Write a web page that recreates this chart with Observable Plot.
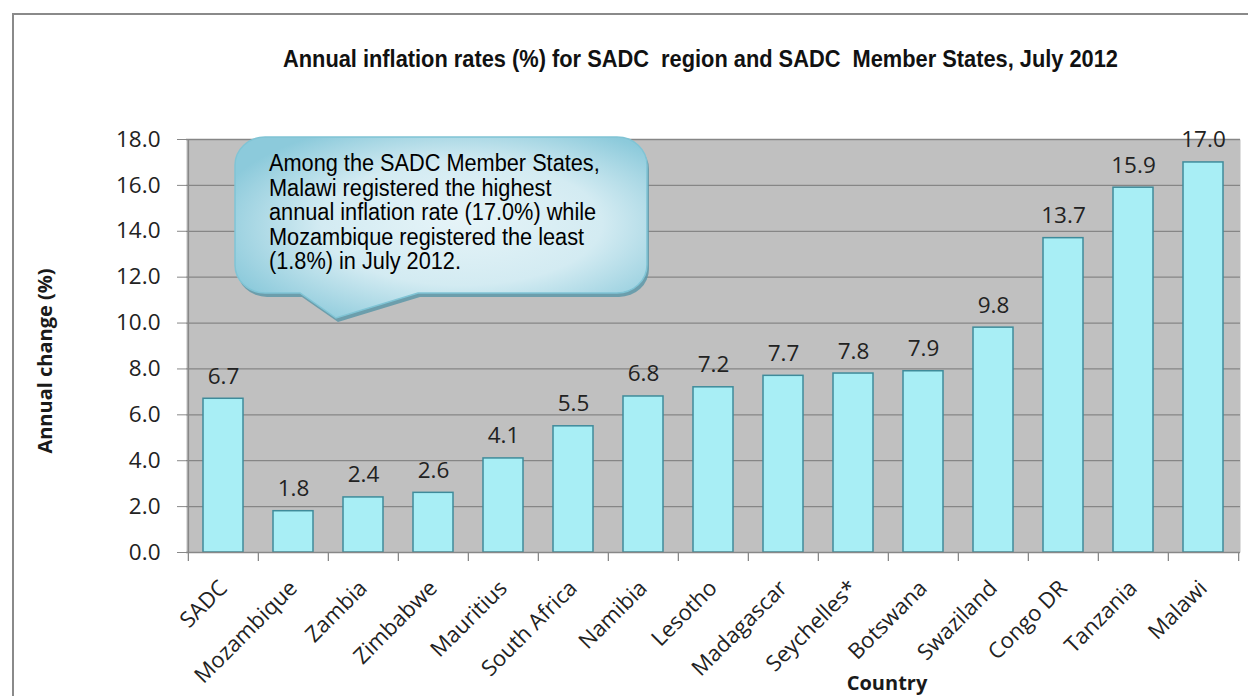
<!DOCTYPE html>
<html>
<head>
<meta charset="utf-8">
<script src="https://cdn.jsdelivr.net/npm/d3@7"></script>
<script src="https://cdn.jsdelivr.net/npm/@observablehq/plot@0.6"></script>
<style>
  html, body { margin: 0; padding: 0; background: #fff; }
  #wrap { position: relative; width: 1248px; height: 696px; overflow: hidden; }
  #wrap > svg { position: absolute; left: 0; top: 0; }
  #overlay { pointer-events: none; }
</style>
</head>
<body>
<div id="wrap"></div>
<script>
// ---- data ----
const categories = ["SADC","Mozambique","Zambia","Zimbabwe","Mauritius","South Africa","Namibia","Lesotho","Madagascar","Seychelles*","Botswana","Swaziland","Congo DR","Tanzania","Malawi"];
const values = [6.7, 1.8, 2.4, 2.6, 4.1, 5.5, 6.8, 7.2, 7.7, 7.8, 7.9, 9.8, 13.7, 15.9, 17.0];
const yTicks = [0, 2, 4, 6, 8, 10, 12, 14, 16, 18];
const titleText = "Annual inflation rates (%) for SADC  region and SADC  Member States, July 2012";
const yLabelText = "Annual change (%)";
const xLabelText = "Country";
const calloutLines = [
  "Among the SADC Member States,",
  "Malawi registered the highest",
  "annual inflation rate (17.0%) while",
  "Mozambique registered the least",
  "(1.8%) in July 2012."
];

// ---- layout ----
const W = 1248, H = 696, mL = 186, mR = 8, mT = 139, mB = 144;
const n = categories.length;
const step = (W - mL - mR) / n;
const data = categories.map((c, i) => ({country: c, value: values[i]}));

const chart = Plot.plot({
  width: W, height: H,
  marginLeft: mL, marginRight: mR, marginTop: mT, marginBottom: mB,
  style: {fontFamily: "'Open Sans', sans-serif", background: "transparent", color: "#222", overflow: "visible"},
  x: {domain: categories, paddingInner: 0.43, paddingOuter: 0.215, label: null},
  y: {domain: [0, 18], label: null},
  marks: [
    Plot.frame({fill: "#c0c0c0", stroke: null}),
    Plot.ruleY(yTicks.slice(1), {stroke: "#868686", strokeWidth: 1.3}),
    Plot.barY(data, {x: "country", y: "value", fill: "#a8eef5", stroke: "#3f8b9a", strokeWidth: 1.5}),
    Plot.text(data, {x: "country", y: "value", text: d => d.value.toFixed(1), dy: -15, lineAnchor: "bottom", fontSize: 22.5, fill: "#222"}),
    Plot.ruleY([0], {stroke: "#888", strokeWidth: 1.5}),
    Plot.ruleX([categories[0]], {x: d => d, dx: -step / 2, y1: 0, y2: 18, stroke: "#888", strokeWidth: 1.5}),
    Plot.ruleX(categories, {x: d => d, dx: -step / 2, y1: 0, y2: 0, insetBottom: -9, stroke: "#888", strokeWidth: 1.3}),
    Plot.ruleX([categories[n - 1]], {x: d => d, dx: step / 2, y1: 0, y2: 0, insetBottom: -9, stroke: "#888", strokeWidth: 1.3}),
    Plot.axisY({ticks: yTicks, tickFormat: d3.format(".1f"), tickSize: 9, tickPadding: 17, fontSize: 22.5, stroke: "#888", label: null}),
    Plot.axisX({tickRotate: -45, tickSize: 0, tickPadding: 32, dx: 0, fontSize: 22, label: null})
  ]
});
document.getElementById("wrap").appendChild(chart);

// ---- overlay: border, title, axis titles, callout ----
const ns = "http://www.w3.org/2000/svg";
const ov = d3.select("#wrap").append("svg").attr("id", "overlay")
  .attr("width", W).attr("height", H).attr("xmlns", ns);

ov.append("rect").attr("x", 13).attr("y", 14).attr("width", 1400).attr("height", 900)
  .attr("fill", "none").attr("stroke", "#8a8a8a").attr("stroke-width", 2);

ov.append("text").attr("x", 700.5).attr("y", 67).attr("text-anchor", "middle")
  .attr("font-family", "'Liberation Sans', Arial, sans-serif").attr("font-weight", "bold")
  .attr("font-size", 24).attr("fill", "#111").style("white-space", "pre")
  .attr("textLength", 835).attr("lengthAdjust", "spacingAndGlyphs")
  .text(titleText);

ov.append("text").attr("transform", "translate(52,361) rotate(-90)").attr("text-anchor", "middle")
  .attr("font-family", "'Open Sans', sans-serif").attr("font-weight", "bold")
  .attr("font-size", 20).attr("fill", "#1a1a1a").text(yLabelText);

ov.append("text").attr("x", 887).attr("y", 690).attr("text-anchor", "middle")
  .attr("font-family", "'Open Sans', sans-serif").attr("font-weight", "bold")
  .attr("font-size", 20).attr("fill", "#1a1a1a").text(xLabelText);

const defs = ov.append("defs");
const grad = defs.append("radialGradient").attr("id", "cg")
  .attr("cx", "0.55").attr("cy", "0.5").attr("r", "0.62").attr("fx", "0.55").attr("fy", "0.45");
grad.append("stop").attr("offset", "0").attr("stop-color", "#e6f4f8");
grad.append("stop").attr("offset", "0.55").attr("stop-color", "#d3ebf2");
grad.append("stop").attr("offset", "1").attr("stop-color", "#8ccadb");

const calloutPath = "M265,137 H617 A30,28 0 0 1 647,165 V265 A30,28 0 0 1 617,293 H418 L336,318 L300,293 H265 A30,28 0 0 1 235,265 V165 A30,28 0 0 1 265,137 Z";
ov.append("path").attr("d", calloutPath).attr("transform", "translate(2,4)")
  .attr("fill", "#5d98a8").attr("opacity", 0.85);
ov.append("path").attr("d", calloutPath).attr("fill", "url(#cg)")
  .attr("stroke", "#80c4d5").attr("stroke-width", 1.5);

const tg = ov.append("g").attr("transform", "translate(269,0) scale(0.945,1)");
calloutLines.forEach((line, i) => {
  tg.append("text").attr("x", 0).attr("y", 171.5 + i * 24.5)
    .attr("font-family", "'Liberation Sans', Arial, sans-serif")
    .attr("font-size", 23).attr("fill", "#000").text(line);
});
</script>
</body>
</html>
